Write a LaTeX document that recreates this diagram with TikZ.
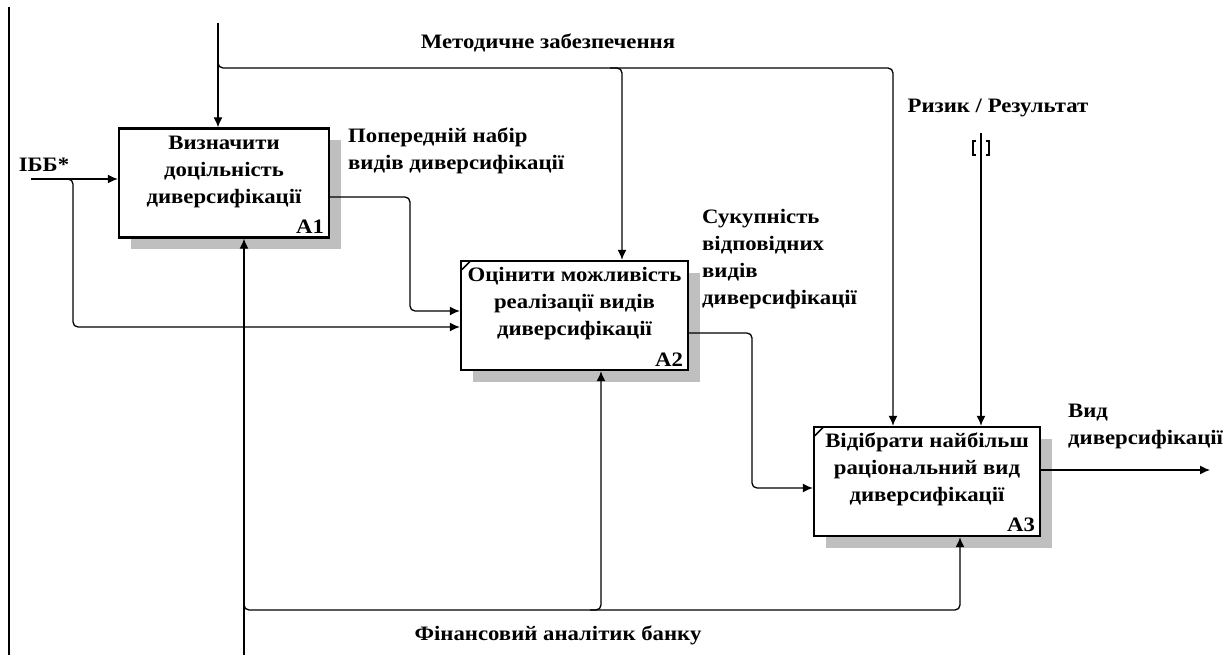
\documentclass[tikz,border=0pt]{standalone}
\usepackage{fontspec}
\setmainfont{Liberation Serif}[FakeStretch=1.11]
\usetikzlibrary{arrows.meta, calc, positioning, shadows}

\begin{document}
\begin{tikzpicture}[x=1pt, y=-1pt,
        font=\fontsize{20.5}{27}\selectfont\bfseries,
        func/.style={draw, line width=2.4pt, fill=white, inner sep=0pt, minimum height=109pt,
            drop shadow={shadow xshift=12pt, shadow yshift=-12pt, fill=gray!50, opacity=1}},
        ftext/.style={align=center, inner sep=0pt},
        fnum/.style={anchor=south east, inner sep=0pt},
        arc/.style={line width=1.3pt, rounded corners=5pt},
        arr/.style={arc, -{Latex[length=10pt, width=9pt]}},
        lbl/.style={inner sep=0pt, align=left, anchor=north west}]
    \useasboundingbox (0,0) rectangle (1229,655);
    \draw[line width=1.2pt] (9,7) -- (9,655);

    % functions
    \node[func, minimum width=210pt] (A1) at (224,183) {};
    \node[func, minimum width=227pt] (A2) at (574.5,315.5) {};
    \node[func, minimum width=226pt] (A3) at (927,481.5) {};

    \node[ftext] (A1t) at ($(A1.center)+(0,-11)$) {Визначити\\доцільність\\диверсифікації};
    \node[ftext] (A2t) at ($(A2.center)+(0,-12)$) {Оцінити можливість\\реалізації видів\\диверсифікації};
    \node[ftext] (A3t) at ($(A3.center)+(0,-12)$) {Відібрати найбільш\\раціональний вид\\диверсифікації};

    \node[fnum] (A1n) at ($(A1.south east)+(-6,-5)$) {A1};
    \node[fnum] (A2n) at ($(A2.south east)+(-6,-5)$) {A2};
    \node[fnum] (A3n) at ($(A3.south east)+(-6,-5)$) {A3};

    \draw[line width=1.6pt] ($(A2.north west)+(2,10)$) -- ($(A2.north west)+(11,1)$);
    \draw[line width=1.6pt] ($(A3.north west)+(2,10)$) -- ($(A3.north west)+(11,1)$);

    % controls
    \coordinate (ctop) at (218,23);
    \draw[arr] (ctop) -- (ctop |- A1.north);
    \draw[arr] (218,58) -- (218,68) -- (893,68) -- (893,68 |- A3.north);
    \draw[arr] (610,68) -- (622,68) -- (622,68 |- A2.north);
    \node (ctl) at (548,43) {Методичне забезпечення};

    \coordinate (risk) at (981,133);
    \draw[arr] (risk) -- (risk |- A3.north);
    \draw[line width=1.2pt] (976,141) -- (973,141) -- (973,155) -- (976,155);
    \draw[line width=1.2pt] (986,141) -- (989,141) -- (989,155) -- (986,155);
    \node (riskl) at (998,108) {Ризик / Результат};

    % inputs
    \coordinate (ibb) at (31,179);
    \draw[arr] (ibb) -- (ibb -| A1.west);
    \draw[arr] (66,179) -- (73,179) -- (73,327) -- (A2.west |- 0,327);
    \node (ibbl) at (44,165) {ІББ*};

    % outputs
    \draw[arr] (A1.east |- 0,197) -- (410,197) -- (410,311) -- (A2.west |- 0,311);
    \node[lbl] (o1) at (348,128) {Попередній набір\\видів диверсифікації};
    \draw[arr] (A2.east |- 0,333) -- (752,333) -- (752,488) -- (A3.west |- 0,488);
    \node[lbl] (o2) at (702,209) {Сукупність\\відповідних\\видів\\диверсифікації};
    \coordinate (res) at (1210,470);
    \draw[arr] (A3.east |- res) -- (res);
    \node[lbl] (o3) at (1068,404) {Вид\\диверсифікації};

    % mechanisms
    \coordinate (mech) at (244,655);
    \draw[arr] (mech) -- (mech |- A1.south);
    \draw[arr] (244,600) -- (244,610) -- (960,610) -- (960,610 |- A3.south);
    \draw[arr] (590,610) -- (601,610) -- (601,610 |- A2.south);
    \node (mechl) at (558,635) {Фінансовий аналітик банку};
\end{tikzpicture}
\end{document}
